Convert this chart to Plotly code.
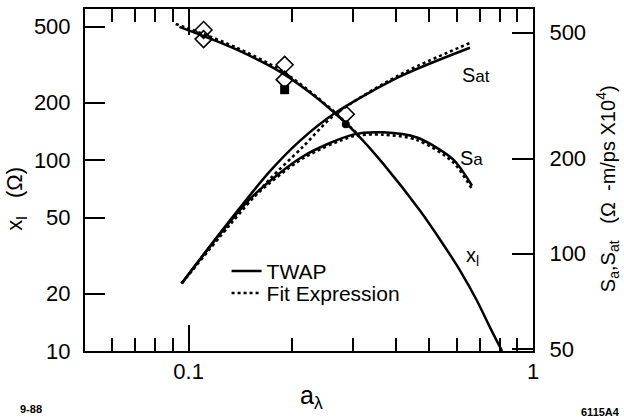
import plotly.graph_objects as go

# ---- data ----
# x_l (left axis, Ohm) vs a_lambda
x1_twap_a = [0.094, 0.110, 0.138, 0.184, 0.225, 0.266, 0.308, 0.366, 0.470, 0.547, 0.614, 0.687, 0.750, 0.813]
x1_twap_v = [499, 448, 379, 291, 226, 176, 137, 96.5, 54.3, 36.5, 26.4, 18.4, 13.3, 10.0]
x1_fit_a = [0.0917, 0.110, 0.138, 0.184, 0.225, 0.266, 0.308]
x1_fit_v = [517, 459, 388, 298, 229, 178, 138]

# S_at (right axis)
sat_twap_a = [0.0954, 0.1315, 0.172, 0.210, 0.2655, 0.410, 0.656]
sat_twap_v = [80.5, 127, 182, 227, 278, 363, 448]
sat_fit_a = [0.0954, 0.1315, 0.172, 0.214, 0.2655, 0.410, 0.656]
sat_fit_v = [80.5, 123, 172, 217, 275, 368, 464]

# S_a (right axis)
sa_twap_a = [0.0954, 0.1206, 0.1535, 0.2145, 0.300, 0.3664, 0.460, 0.585, 0.665]
sa_twap_v = [80.5, 112, 152, 203, 238, 242, 233, 199, 164]
sa_fit_a = [0.0954, 0.1206, 0.1535, 0.2145, 0.300, 0.3664, 0.460, 0.585, 0.665]
sa_fit_v = [80.5, 111, 150, 200, 235, 238, 229, 195, 160]

# measured points (left axis)
diamond_a = [0.1105, 0.1105, 0.190, 0.190, 0.286]
diamond_v = [481, 431, 316, 264, 174]
square_a = [0.190]
square_v = [234]
circle_a = [0.286]
circle_v = [154]

x_tick_vals = [0.1, 1]
x_tick_text = ["0.1", "1"]
x_minor_vals = [0.06, 0.07, 0.08, 0.09, 0.2, 0.3, 0.4, 0.5, 0.6, 0.7, 0.8, 0.9]
yl_tick_vals = [10, 20, 50, 100, 200, 500]
yr_tick_vals = [50, 100, 200, 500]

FONT = "Liberation Sans, Arial, sans-serif"
BLACK = "black"

fig = go.Figure()

solid = dict(color=BLACK, width=2.5, shape="spline", smoothing=0.8)
dotted = dict(color=BLACK, width=2.6, dash="dot", shape="spline", smoothing=0.8)

fig.add_trace(go.Scatter(x=x1_twap_a, y=x1_twap_v, mode="lines", line=solid,
                         name="TWAP", legend="legend", showlegend=True, yaxis="y"))
fig.add_trace(go.Scatter(x=x1_fit_a, y=x1_fit_v, mode="lines", line=dotted,
                         name="Fit Expression", legend="legend2", showlegend=True, yaxis="y"))
fig.add_trace(go.Scatter(x=sat_twap_a, y=sat_twap_v, mode="lines", line=solid,
                         showlegend=False, yaxis="y2"))
fig.add_trace(go.Scatter(x=sat_fit_a, y=sat_fit_v, mode="lines", line=dotted,
                         showlegend=False, yaxis="y2"))
fig.add_trace(go.Scatter(x=sa_twap_a, y=sa_twap_v, mode="lines", line=solid,
                         showlegend=False, yaxis="y2"))
fig.add_trace(go.Scatter(x=sa_fit_a, y=sa_fit_v, mode="lines", line=dotted,
                         showlegend=False, yaxis="y2"))

fig.add_trace(go.Scatter(x=diamond_a, y=diamond_v, mode="markers", showlegend=False,
                         marker=dict(symbol="diamond-open", size=13, color=BLACK,
                                     line=dict(width=1.6, color=BLACK)), yaxis="y"))
fig.add_trace(go.Scatter(x=square_a, y=square_v, mode="markers", showlegend=False,
                         marker=dict(symbol="square", size=9, color=BLACK), yaxis="y"))
fig.add_trace(go.Scatter(x=circle_a, y=circle_v, mode="markers", showlegend=False,
                         marker=dict(symbol="circle", size=8, color=BLACK), yaxis="y"))

axis_common = dict(showline=True, linecolor=BLACK, linewidth=2, showgrid=False,
                   zeroline=False, ticks="inside", tickcolor=BLACK, tickwidth=1.5,
                   tickfont=dict(family=FONT, size=22, color=BLACK))

legend_common = dict(xanchor="left", yanchor="middle", bgcolor="rgba(0,0,0,0)",
                     font=dict(family=FONT, size=21, color=BLACK))

fig.update_layout(
    width=624, height=419,
    margin=dict(l=85, r=91, t=7, b=68, pad=0),
    paper_bgcolor="white", plot_bgcolor="white",
    font=dict(family=FONT, color=BLACK),
    xaxis=dict(type="log", range=[-1.30103, 0], tickmode="array",
               tickvals=x_tick_vals, ticktext=x_tick_text, ticklen=26,
               mirror="ticks", ticklabelstandoff=0,
               minor=dict(tickmode="array", tickvals=x_minor_vals, ticks="inside",
                          ticklen=13, tickcolor=BLACK, tickwidth=1.5, showgrid=False),
               **axis_common),
    yaxis=dict(type="log", range=[1, 2.792], tickmode="array",
               tickvals=yl_tick_vals, ticktext=[str(v) for v in yl_tick_vals],
               ticklen=20, ticklabelstandoff=8, **axis_common),
    yaxis2=dict(type="log", range=[1.692, 2.774], overlaying="y", side="right",
                tickmode="array", tickvals=yr_tick_vals,
                ticktext=[str(v) for v in yr_tick_vals],
                ticklen=21, ticklabelstandoff=10, **axis_common),
    legend=dict(x=0.316, y=0.2326, **legend_common),
    legend2=dict(x=0.316, y=0.1686, **legend_common),
    showlegend=True,
)

ann = [
    dict(text="S<span style='font-size:17px'>at</span>", x=0.873, y=0.808),
    dict(text="S<span style='font-size:17px'>a</span>", x=0.862, y=0.564),
    dict(text="x<sub>l</sub>", x=0.866, y=0.275),
]
for a in ann:
    fig.add_annotation(xref="paper", yref="paper", showarrow=False,
                       xanchor="center", yanchor="middle",
                       font=dict(family=FONT, size=20, color=BLACK), **a)

# axis titles
fig.add_annotation(xref="paper", yref="paper", x=0.505, y=-0.134,
                   xanchor="center", yanchor="middle",
                   showarrow=False, text="a<sub>λ</sub>",
                   font=dict(family=FONT, size=25, color=BLACK))
fig.add_annotation(xref="paper", yref="paper", x=-0.154, y=0.445,
                   xanchor="center", yanchor="middle", showarrow=False,
                   textangle=-90, text="x<sub>l</sub>   (Ω)",
                   font=dict(family=FONT, size=22, color=BLACK))
fig.add_annotation(xref="paper", yref="paper", x=1.168, y=0.474,
                   xanchor="center", yanchor="middle", showarrow=False,
                   textangle=-90,
                   text="S<sub>a</sub>,S<sub>at</sub>   (Ω  -m/ps X10<sup>4</sup>)",
                   font=dict(family=FONT, size=20, color=BLACK))
# corner labels
fig.add_annotation(xref="paper", yref="paper", x=-0.1496, y=-0.1686,
                   xanchor="left", yanchor="middle", showarrow=False,
                   text="<b>9-88</b>", font=dict(family=FONT, size=11, color=BLACK))
fig.add_annotation(xref="paper", yref="paper", x=1.199, y=-0.177,
                   xanchor="right", yanchor="middle", showarrow=False,
                   text="<b>6115A4</b>", font=dict(family=FONT, size=11, color=BLACK))

fig.write_html("out.html", config={"displayModeBar": False},
               post_script="document.body.style.margin='0px';")
